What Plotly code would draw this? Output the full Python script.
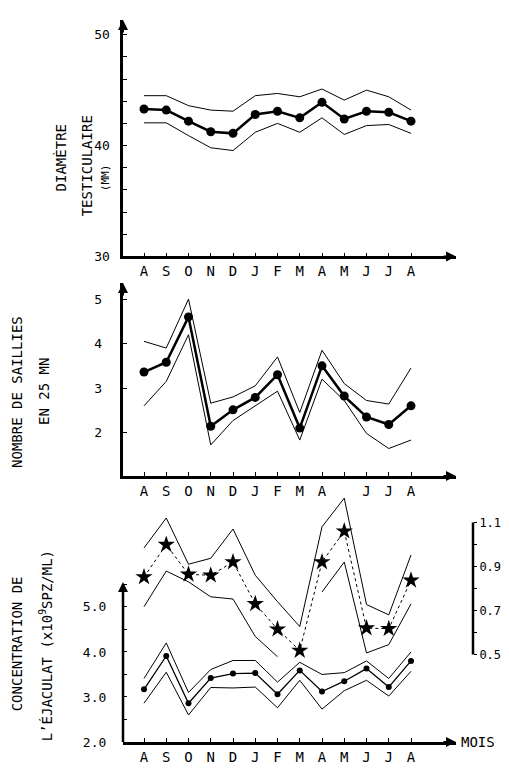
import plotly.graph_objects as go

W, H = 509, 770
months = ["A", "S", "O", "N", "D", "J", "F", "M", "A", "M", "J", "J", "A"]
months2 = ["A", "S", "O", "N", "D", "J", "F", "M", "A", "", "J", "J", "A"]
x = list(range(len(months)))

# panel 1 - testicular diameter (mm)
diam_mean = [43.3, 43.2, 42.2, 41.25, 41.1, 42.8, 43.1, 42.5, 43.9, 42.4, 43.1, 43.0, 42.2]
diam_up = [44.5, 44.5, 43.6, 43.2, 43.1, 44.5, 44.7, 44.4, 45.1, 44.1, 45.0, 44.4, 43.2]
diam_lo = [42.05, 42.05, 40.9, 39.8, 39.55, 41.2, 42.0, 41.2, 42.5, 41.0, 41.8, 41.9, 41.1]

# panel 2 - number of mounts in 25 min
sail_mean = [3.36, 3.58, 4.6, 2.14, 2.51, 2.79, 3.3, 2.1, 3.5, 2.82, 2.35, 2.18, 2.6]
sail_up = [4.05, 3.9, 5.0, 2.66, 2.8, 3.05, 3.7, 2.45, 3.85, 3.1, 2.72, 2.64, 3.45]
sail_lo = [2.6, 3.15, 4.2, 1.72, 2.27, 2.6, 2.93, 1.83, 3.2, 2.72, 1.98, 1.64, 1.83]

# panel 3 - concentration (left axis, dots)
conc_mean = [3.17, 3.91, 2.86, 3.42, 3.52, 3.53, 3.06, 3.59, 3.12, 3.35, 3.63, 3.22, 3.8]
conc_up = [3.41, 4.2, 3.1, 3.61, 3.81, 3.81, 3.33, 3.77, 3.5, 3.54, 3.8, 3.41, 4.0]
conc_lo = [2.86, 3.55, 2.6, 3.21, 3.2, 3.22, 2.76, 3.37, 2.73, 3.14, 3.37, 3.02, 3.57]

# panel 3 - right axis, stars
star_mean = [0.852, 0.999, 0.864, 0.86, 0.92, 0.73, 0.615, 0.518, 0.92, 1.06, 0.62, 0.617, 0.837]
star_up = [0.984, 1.12, 0.91, 0.937, 1.07, 0.86, 0.74, 0.627, 1.08, 1.21, 0.727, 0.68, 0.952]
star_lo = [0.717, 0.879, 0.83, 0.762, 0.752, 0.582, 0.49, None, 0.784, 0.92, 0.507, 0.545, 0.73]

FONT = "DejaVu Sans Mono"
X0, X1 = 115, 448
px_per = 22.25
xr = [(X0 - 136) / px_per, (X1 - 136) / px_per]
xdom = [X0 / W, X1 / W]


def ydom(top, bot):
    return [1 - bot / H, 1 - top / H]


fig = go.Figure()


def band(xa, ya, vals):
    fig.add_trace(go.Scatter(x=x, y=vals, xaxis=xa, yaxis=ya, mode="lines",
                             line=dict(color="black", width=1), connectgaps=False,
                             showlegend=False, hoverinfo="skip"))


def mean(xa, ya, vals, width, size, symbol="circle", dash="solid"):
    fig.add_trace(go.Scatter(x=x, y=vals, xaxis=xa, yaxis=ya, mode="lines+markers",
                             line=dict(color="black", width=width, dash=dash),
                             marker=dict(color="black", size=size, symbol=symbol),
                             showlegend=False))


band("x", "y", diam_up); band("x", "y", diam_lo)
mean("x", "y", diam_mean, 2.5, 9)
band("x2", "y2", sail_up); band("x2", "y2", sail_lo)
mean("x2", "y2", sail_mean, 2.5, 9)
band("x3", "y3", conc_up); band("x3", "y3", conc_lo)
mean("x3", "y3", conc_mean, 1.3, 6)
band("x3", "y4", star_up); band("x3", "y4", star_lo)
mean("x3", "y4", star_mean, 1, 13, symbol="star", dash="dot")

axfont = dict(family=FONT, size=13, color="black")
xcommon = dict(range=xr, domain=xdom, showgrid=False, zeroline=False, showline=True,
               linecolor="black", linewidth=2.5, ticks="inside", ticklen=4,
               tickcolor="black", tickvals=x, tickfont=dict(family=FONT, size=14, color="black"))
ycommon = dict(showgrid=False, zeroline=False, showline=True,
               linecolor="black", linewidth=2.5, ticks="inside", ticklen=4,
               tickcolor="black", tickfont=axfont)

# panel pixel extents
p1 = (12, 251); p2 = (278, 473); p3 = (490, 741.7)

fig.update_layout(
    width=W, height=H, margin=dict(l=0, r=0, t=0, b=0),
    paper_bgcolor="white", plot_bgcolor="white",
    font=dict(family=FONT, color="black"),
    xaxis=dict(xcommon, anchor="y", ticktext=months),
    xaxis2=dict(xcommon, anchor="y2", ticktext=months2),
    xaxis3=dict(xcommon, anchor="y3", ticktext=months),
    yaxis=dict(ycommon, anchor="x", domain=ydom(*p1), range=[30, 50 + 15 / 11.2],
               tickvals=[30, 32, 34, 36, 38, 40, 42, 44, 46, 48, 50],
               ticktext=["30 ", "", "", "", "", "40 ", "", "", "", "", "50 "]),
    yaxis2=dict(ycommon, anchor="x2", domain=ydom(*p2), range=[1.02, 5.36],
                tickvals=[2, 3, 4, 5], ticktext=["2  ", "3  ", "4  ", "5  "]),
    yaxis3=dict(ycommon, anchor="x3", domain=ydom(*p3), range=[2.0, 2 + 251.7 / 45.5],
                showline=False, tickvals=[2, 2.5, 3, 3.5, 4, 4.5, 5, 5.5],
                ticktext=["2.0  ", "", "3.0  ", "", "4.0  ", "", "5.0  ", ""]),
    yaxis4=dict(ycommon, overlaying="y3", anchor="free", side="right", position=465 / W,
                showline=False, range=[0.5 - 88.4 / 222.5, 0.5 + 163.3 / 222.5],
                tickvals=[0.5, 0.6, 0.7, 0.8, 0.9, 1.0, 1.1],
                ticktext=["0.5", "", "0.7", "", "0.9", "", "1.1"], ticks="outside",
                ticklen=3, tickfont=dict(family=FONT, size=12, color="black")),
)

# left axis of panel 3 only reaches ~5.55; right bracket 0.5-1.1
fig.add_shape(type="line", xref="paper", yref="y3", x0=X0 / W, x1=X0 / W, y0=2.0, y1=5.5,
              line=dict(color="black", width=2.5))
fig.add_shape(type="line", xref="paper", yref="y4", x0=465 / W, x1=465 / W, y0=0.5, y1=1.1,
              line=dict(color="black", width=2.5))


def arrow(px, py, ax, ay):
    fig.add_annotation(xref="paper", yref="paper", x=px / W, y=1 - py / H, ax=ax, ay=ay,
                       showarrow=True, arrowhead=2, arrowsize=1, arrowwidth=2,
                       arrowcolor="black", text="")


for top, bot in (p1, p2):
    arrow(X0, top, 0, 14)
    arrow(X1, bot, -14, 0)
arrow(X0, 580, 0, 14)
arrow(X1, p3[1], -14, 0)
fig.add_annotation(xref="paper", yref="paper", x=451 / W, y=1 - p3[1] / H, xanchor="left",
                   yanchor="middle", text="MOIS", showarrow=False,
                   font=dict(family=FONT, size=14))

# y titles (x offsets compensate for rotated-text placement)
dx = -9
titles = [
    ("DIAMÈTRE", 62, 152, 14), ("TESTICULAIRE", 88, 160, 14), ("(MM)", 106, 172, 11),
    ("NOMBRE DE SAILLIES", 18, 388, 14), ("EN 25 MN", 45, 388, 14),
    ("CONCENTRATION DE", 18, 643, 14), ("L’ÉJACULAT (x10<sup>9</sup>SPZ/ML)", 47, 645, 14),
]
for t, px, py, s in titles:
    fig.add_annotation(xref="paper", yref="paper", x=(px + dx) / W, y=1 - py / H, text=t,
                       xanchor="center", yanchor="middle", textangle=-90,
                       showarrow=False, font=dict(family=FONT, size=s))

fig.write_html("out.html")
